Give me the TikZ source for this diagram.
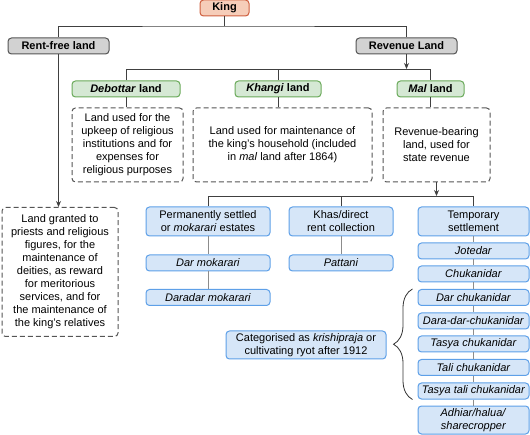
\documentclass[tikz,border=0pt]{standalone}
\usepackage{fontspec}
\setmainfont{Liberation Sans}
\usetikzlibrary{arrows.meta,positioning,decorations.pathreplacing}

\definecolor{kingfill}{HTML}{F6CDB9}
\definecolor{kingline}{HTML}{CF5F3F}
\definecolor{greyfill}{HTML}{D2D2D2}
\definecolor{greyline}{HTML}{555555}
\definecolor{greenfill}{HTML}{D5E8D4}
\definecolor{greenline}{HTML}{6AAA5A}
\definecolor{bluefill}{HTML}{D6E6F8}
\definecolor{blueline}{HTML}{5EA0E8}

\begin{document}
\begin{tikzpicture}[x=1pt, y=-1pt, >={Stealth[length=6pt,width=5pt]},
  font=\fontsize{11}{13}\selectfont,
  box/.style={rounded corners=3.5pt, line width=1pt, inner sep=1pt, align=center},
  kingbox/.style={box, draw=kingline, fill=kingfill, font=\fontsize{11}{13}\selectfont\bfseries},
  typebox/.style={box, draw=greyline, fill=greyfill, font=\fontsize{11}{13}\selectfont\bfseries},
  landbox/.style={box, draw=greenline, fill=greenfill, font=\fontsize{11}{13}\selectfont\bfseries},
  notebox/.style={box, draw=greyline, dashed, dash pattern=on 5pt off 3pt},
  tenure/.style={box, draw=blueline, fill=bluefill},
  link/.style={draw=black!75, line width=0.9pt},
  chain/.style={draw=black!45, line width=1pt}]
\useasboundingbox (0,0) rectangle (530,435);

\node[kingbox, minimum width=49, minimum height=16] (king) at (224.5,8) {King};
\node[typebox, minimum width=101, minimum height=16] (rent) at (58.5,46) {Rent-free land};
\node[typebox, minimum width=101, minimum height=16] (rev) at (406.5,46) {Revenue Land};

\node[landbox, minimum width=108, minimum height=16] (deb) at (126,89) {\textit{Debottar} land};
\node[landbox, minimum width=86, minimum height=16] (kha) at (278,89) {\textit{Khangi} land};
\node[landbox, minimum width=67, minimum height=16] (mal) at (430.5,89) {\textit{Mal} land};

\node[notebox, minimum width=111, minimum height=74] (debnote) at (127.5,145)
  {Land used for the\\upkeep of religious\\institutions and for\\expenses for\\religious purposes};
\node[notebox, minimum width=179, minimum height=74] (khanote) at (282.5,145)
  {Land used for maintenance of\\the king's household (included\\in \textit{mal} land after 1864)};
\node[notebox, minimum width=107, minimum height=74] (malnote) at (436.5,145)
  {Revenue-bearing\\land, used for\\state revenue};
\node[notebox, minimum width=116, minimum height=129] (rentnote) at (60,272)
  {Land granted to\\priests and religious\\figures, for the\\maintenance of\\deities, as reward\\for meritorious\\services, and for\\the maintenance of\\the king's relatives};

% permanent and khas settlements
\node[tenure, minimum width=124, minimum height=29] (perm) at (208,221.5)
  {Permanently settled\\or \textit{mokarari} estates};
\node[tenure, minimum width=124, minimum height=16] (darmok) at (208,263) {\textit{Dar mokarari}};
\node[tenure, minimum width=124, minimum height=16] (daradar) at (208,297.5) {\textit{Daradar mokarari}};
\node[tenure, minimum width=104, minimum height=29] (khas) at (341,221.5)
  {Khas/direct\\rent collection};
\node[tenure, minimum width=104, minimum height=16] (pattani) at (341,263) {\textit{Pattani}};

% temporary settlement chain
\node[tenure, minimum width=111, minimum height=29] (temp) at (473.5,221.5)
  {Temporary\\settlement};
\node[tenure, minimum width=111, minimum height=16] (jote) at (473.5,251) {\textit{Jotedar}};
\node[tenure, minimum width=111, minimum height=16] (chuk) at (473.5,274) {\textit{Chukanidar}};
\node[tenure, minimum width=111, minimum height=16] (darchuk) at (473.5,297.5) {\textit{Dar chukanidar}};
\node[tenure, minimum width=111, minimum height=16] (daradarchuk) at (473.5,321) {\textit{Dara-dar-chukanidar}};
\node[tenure, minimum width=111, minimum height=16] (tasya) at (473.5,344) {\textit{Tasya chukanidar}};
\node[tenure, minimum width=111, minimum height=16] (tali) at (473.5,367.5) {\textit{Tali chukanidar}};
\node[tenure, minimum width=111, minimum height=16] (tasyatali) at (473.5,391) {\textit{Tasya tali chukanidar}};
\node[tenure, minimum width=111, minimum height=28] (adhiar) at (473.5,420)
  {\textit{Adhiar/halua/}\\\textit{sharecropper}};

\node[tenure, minimum width=160, minimum height=28] (categ) at (306,345)
  {Categorised as \textit{krishipraja} or\\cultivating ryot after 1912};

% connectors
\coordinate (kjoin) at (224.5,26);
\coordinate (rjoin) at (406.5,69);
\coordinate (mjoin) at (436.5,196);
\draw[link] (king) -- (kjoin);
\draw[link] (rent) |- (kjoin) -| (rev);
\draw[link,->] (rev) -- (rjoin);
\draw[link] (deb) |- (mal |- rjoin) -- (mal);
\draw[link] (kha) -- (kha |- rjoin);
\draw[link] (deb) -- (deb |- debnote.north);
\draw[link] (kha) -- (kha |- khanote.north);
\draw[link] (mal) -- (mal |- malnote.north);
\draw[link,->] (rent) -- (rent |- rentnote.north);
\draw[link,->] (malnote) -- (mjoin);
\draw[link] (perm) |- (temp |- mjoin) -- (temp);
\draw[link] (khas) -- (khas |- mjoin);

\draw[chain] (perm) -- (darmok) -- (daradar);
\draw[chain] (khas) -- (pattani);
\foreach \a/\b in {temp/jote, jote/chuk, chuk/darchuk, darchuk/daradarchuk,
  daradarchuk/tasya, tasya/tali, tali/tasyatali, tasyatali/adhiar}
  \draw[chain] (\a) -- (\b);

\draw[black!80, line width=0.8pt, decorate, decoration={brace, amplitude=19pt}]
  ([xshift=-5pt]tasyatali.south west) -- ([xshift=-5pt]darchuk.north west);
\end{tikzpicture}
\end{document}
